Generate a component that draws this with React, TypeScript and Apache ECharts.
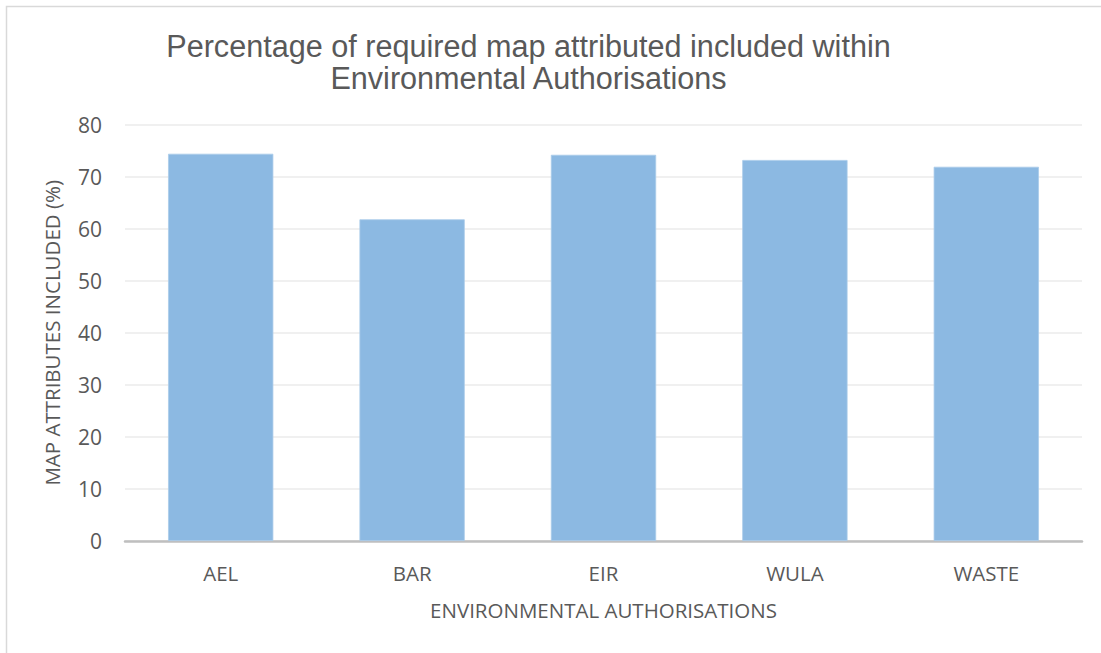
import React, { useEffect, useRef } from "react";
import * as echarts from "echarts";

const categories = ["AEL", "BAR", "EIR", "WULA", "WASTE"];
const values = [74.4, 61.8, 74.2, 73.2, 71.9];
const titleLines = [
  "Percentage of required map attributed included within",
  "Environmental Authorisations",
];
const xAxisTitle = "ENVIRONMENTAL AUTHORISATIONS";
const yAxisTitle = "MAP ATTRIBUTES INCLUDED (%)";

export default function App() {
  const ref = useRef<HTMLDivElement>(null);
  useEffect(() => {
    if (!ref.current) return;
    const chart = echarts.init(ref.current, null, { renderer: "svg" });
    const axisFont = "'Open Sans', 'Noto Sans', sans-serif";
    chart.setOption({
      animation: false,
      backgroundColor: "#ffffff",
      graphic: [
        {
          type: "rect",
          shape: { x: 6.5, y: 6.5, width: 1300, height: 900 },
          style: { fill: "none", stroke: "#d9d9d9", lineWidth: 1.5 },
          silent: true,
          z: -10,
        },
        {
          type: "text",
          x: 528.5,
          y: 46,
          style: {
            text: titleLines[0],
            fill: "#595959",
            font: "30.6px 'Liberation Sans', Arial, sans-serif",
            textAlign: "center",
            textVerticalAlign: "middle",
          },
        },
        {
          type: "text",
          x: 528.5,
          y: 78,
          style: {
            text: titleLines[1],
            fill: "#595959",
            font: "30.6px 'Liberation Sans', Arial, sans-serif",
            textAlign: "center",
            textVerticalAlign: "middle",
          },
        },
      ],
      grid: { left: 125, right: 19, top: 124.6, bottom: 112, containLabel: false },
      xAxis: {
        type: "category",
        data: categories,
        name: xAxisTitle,
        nameLocation: "middle",
        nameGap: 58,
        nameTextStyle: { color: "#595959", fontSize: 20.5, fontFamily: axisFont },
        axisLine: { show: true, lineStyle: { color: "#bfbfbf", width: 2.5 } },
        axisTick: { show: false },
        axisLabel: { color: "#595959", fontSize: 20.5, fontFamily: axisFont, margin: 21 },
        splitLine: { show: false },
      },
      yAxis: {
        type: "value",
        min: 0,
        max: 80,
        interval: 10,
        name: yAxisTitle,
        nameLocation: "middle",
        nameGap: 63,
        nameTextStyle: { color: "#595959", fontSize: 20.5, fontFamily: axisFont },
        axisLine: { show: false },
        axisTick: { show: false },
        axisLabel: { color: "#595959", fontSize: 21, fontFamily: axisFont, margin: 23 },
        splitLine: { show: true, lineStyle: { color: "#ebebeb", width: 1.5 } },
      },
      series: [
        {
          type: "bar",
          data: values,
          barCategoryGap: "45%",
          itemStyle: { color: "#8cb9e2", borderColor: "#a9cbea", borderWidth: 0.8 },
        },
      ],
    });
    return () => chart.dispose();
  }, []);
  return (
    <div
      ref={ref}
      style={{ position: "absolute", left: 0, top: 0, width: 1101, height: 653 }}
    />
  );
}
